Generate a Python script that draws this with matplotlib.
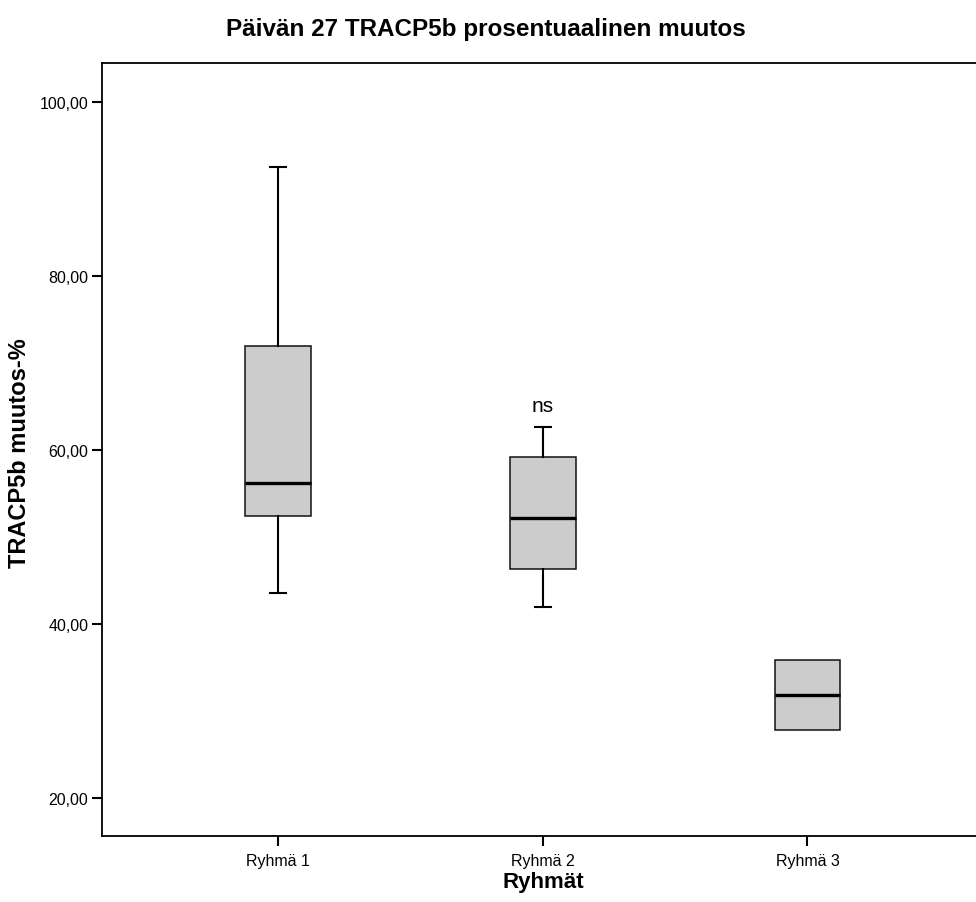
import matplotlib
matplotlib.use("Agg")
import matplotlib.pyplot as plt

plt.rcParams['font.family'] = ['Liberation Sans', 'DejaVu Sans']

# box statistics per group (TRACP5b change-% on day 27)
groups = ["Ryhmä 1", "Ryhmä 2", "Ryhmä 3"]
whis_low = [43.6, 42.0, 27.8]
q1 = [52.4, 46.3, 27.8]
median = [56.2, 52.2, 31.9]
q3 = [71.9, 59.2, 35.9]
whis_high = [92.5, 62.6, 35.9]
annot_text = "ns"
annot_group = 2
annot_y = 65.1

yticks = [20, 40, 60, 80, 100]

stats = []
for i, g in enumerate(groups):
    stats.append(dict(label=g, whislo=whis_low[i], q1=q1[i], med=median[i],
                      q3=q3[i], whishi=whis_high[i], fliers=[]))

# no caps when the whiskers collapse onto the box
caps = [0.062 if (whis_low[i] < q1[i] or whis_high[i] > q3[i]) else 0.0
        for i in range(len(groups))]

fig = plt.figure(figsize=(9.76, 9.03), dpi=100)
ax = fig.add_axes([0.1042, 0.0734, 0.904, 0.8557])

ax.bxp(stats, positions=[1, 2, 3], widths=0.248, capwidths=caps,
       showfliers=False, patch_artist=True,
       boxprops=dict(facecolor='#cccccc', edgecolor='#111111', linewidth=1.1),
       medianprops=dict(color='black', linewidth=2.4),
       whiskerprops=dict(color='black', linewidth=1.5),
       capprops=dict(color='black', linewidth=1.5))

ax.text(annot_group, annot_y, annot_text, ha='center', va='center', fontsize=15)

ax.set_xlim(0.333, 3.667)
ax.set_ylim(15.7, 104.45)
ax.set_yticks(yticks)
ax.set_yticklabels([f"{v:.2f}".replace('.', ',') for v in yticks])
ax.set_xticks([1, 2, 3])
ax.set_xticklabels(groups)

ax.tick_params(axis='y', length=7.2, width=1.5, pad=2.5, labelsize=11.5)
ax.tick_params(axis='x', length=7.2, width=1.5, pad=5, labelsize=11.5)
for s in ax.spines.values():
    s.set_linewidth(1.3)

fig.text(0.498, 1 - 36 / 903, "Päivän 27 TRACP5b prosentuaalinen muutos",
         ha='center', va='baseline', fontsize=17.5, fontweight='bold')
fig.text(20 / 976, 1 - 453 / 903, "TRACP5b muutos-%", rotation=90,
         ha='center', va='center', fontsize=17, fontweight='bold')
fig.text(543 / 976, 1 - 888 / 903, "Ryhmät", ha='center', va='baseline',
         fontsize=16, fontweight='bold')

fig.savefig("out.png", dpi=100)
